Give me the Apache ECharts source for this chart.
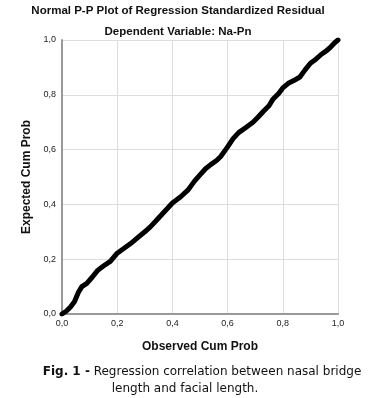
<!DOCTYPE html>
<html><head><meta charset="utf-8">
<script src="https://cdn.jsdelivr.net/npm/echarts@6/dist/echarts.min.js"></script>
<style>html,body{margin:0;padding:0;background:#fff}#c{width:380px;height:398px}</style>
</head><body><div id="c"></div>
<script>
var observedCumProb = [0.000,0.015,0.030,0.045,0.060,0.072,0.090,0.110,0.130,0.150,0.175,0.200,0.225,0.250,0.270,0.300,0.320,0.345,0.370,0.400,0.430,0.457,0.480,0.500,0.520,0.540,0.560,0.575,0.600,0.620,0.640,0.665,0.692,0.710,0.730,0.750,0.765,0.785,0.800,0.820,0.840,0.862,0.880,0.900,0.920,0.940,0.960,0.975,0.990,1.000];
var expectedCumProb = [0.000,0.010,0.025,0.045,0.080,0.100,0.112,0.135,0.160,0.175,0.192,0.222,0.240,0.258,0.275,0.300,0.318,0.345,0.372,0.405,0.428,0.453,0.485,0.508,0.530,0.546,0.560,0.575,0.610,0.640,0.662,0.680,0.700,0.718,0.740,0.760,0.785,0.805,0.825,0.842,0.852,0.865,0.890,0.915,0.930,0.948,0.962,0.976,0.992,1.000];
var tickValues = [0,0.2,0.4,0.6,0.8,1.0];
var titleText = 'Normal P-P Plot of Regression Standardized Residual';
var subtitleText = 'Dependent Variable: Na-Pn';
var xName = 'Observed Cum Prob';
var yName = 'Expected Cum Prob';
var captionBold = 'Fig. 1 -';
var captionLine1 = ' Regression correlation between nasal bridge';
var captionLine2 = 'length and facial length.';

var pts = observedCumProb.map(function(x,i){return [x, expectedCumProb[i]];});
function fmt(v){return v.toFixed(1).replace('.', ',');}
var capFont = 'DejaVu Sans, Verdana';
var chart = echarts.init(document.getElementById('c'), null, {renderer:'canvas'});
chart.setOption({
  animation:false,
  backgroundColor:'#fff',
  title:[
    {text:titleText, left:173, top:0, textAlign:'center', textStyle:{fontFamily:'Liberation Sans, Arial', fontSize:11.5, fontWeight:'bold', color:'#111'}},
    {text:subtitleText, left:173, top:21, textAlign:'center', textStyle:{fontFamily:'Liberation Sans, Arial', fontSize:11.5, fontWeight:'bold', color:'#111'}},
    {text:'{b|'+captionBold+'}{n|'+captionLine1+'}', left:197, top:358, textAlign:'center',
     textStyle:{fontWeight:'normal', fontFamily:capFont, fontSize:12,
      rich:{b:{fontFamily:capFont, fontSize:12, fontWeight:'bold', color:'#111', lineHeight:17},
            n:{fontFamily:capFont, fontSize:12, fontWeight:'normal', color:'#111', lineHeight:17}}}},
    {text:captionLine2, left:180, top:375, textAlign:'center',
     textStyle:{fontWeight:'normal', fontFamily:capFont, fontSize:12, color:'#111', lineHeight:17}}
  ],
  grid:{left:62, right:42, top:40, bottom:84, containLabel:false},
  xAxis:{type:'value', min:0, max:1, interval:0.2,
    name:xName, nameLocation:'middle', nameGap:27,
    nameTextStyle:{fontFamily:'Liberation Sans, Arial', fontSize:12, fontWeight:'bold', color:'#111'},
    axisLine:{lineStyle:{color:'#999', width:2}}, axisTick:{show:false},
    axisLabel:{formatter:fmt, fontFamily:'Liberation Sans, Arial', fontSize:9, color:'#222', margin:5},
    splitLine:{lineStyle:{color:'#ddd', width:1}}},
  yAxis:{type:'value', min:0, max:1, interval:0.2,
    name:yName, nameLocation:'middle', nameGap:25, nameRotate:90,
    nameTextStyle:{fontFamily:'Liberation Sans, Arial', fontSize:12, fontWeight:'bold', color:'#111'},
    axisLine:{show:true, lineStyle:{color:'#999', width:2}}, axisTick:{show:false},
    axisLabel:{formatter:fmt, fontFamily:'Liberation Sans, Arial', fontSize:9, color:'#222', margin:6},
    splitLine:{lineStyle:{color:'#ddd', width:1}}},
  series:[{type:'line', data:pts, symbol:'none', smooth:false,
    lineStyle:{color:'#000', width:5, cap:'round', join:'round'}}]
});
</script></body></html>
